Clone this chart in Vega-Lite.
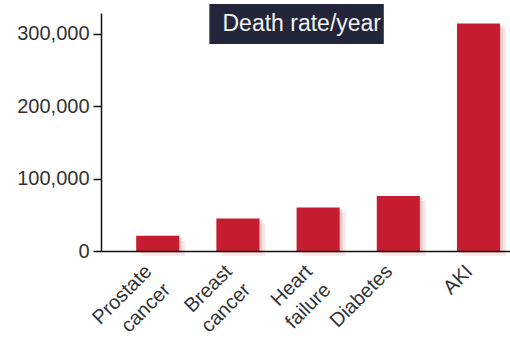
{
  "$schema": "https://vega.github.io/schema/vega-lite/v6.json",
  "width": 409,
  "height": 238,
  "autosize": {"type": "none"},
  "padding": {"left": 101, "top": 13, "right": 0, "bottom": 90},
  "background": "white",
  "config": {
    "view": {"stroke": null},
    "font": "Liberation Sans"
  },
  "datasets": {
    "deaths": [
      {"condition": "Prostate cancer", "deaths": 21000},
      {"condition": "Breast cancer", "deaths": 45000},
      {"condition": "Heart failure", "deaths": 60000},
      {"condition": "Diabetes", "deaths": 76000},
      {"condition": "AKI", "deaths": 314500}
    ],
    "heading": [
      {"note": "Death rate/year"}
    ]
  },
  "layer": [
    {
      "data": {"name": "deaths"},
      "mark": {"type": "bar", "color": "#e7b3b5", "opacity": 0.3, "xOffset": 6, "yOffset": 5, "y2Offset": 18},
      "encoding": {
        "x": {"field": "condition", "type": "nominal"},
        "y": {"field": "deaths", "type": "quantitative"}
      }
    },
    {
      "data": {"name": "deaths"},
      "mark": {"type": "bar", "color": "#d98b90", "opacity": 0.3, "xOffset": 3, "yOffset": 2, "y2Offset": 9},
      "encoding": {
        "x": {"field": "condition", "type": "nominal"},
        "y": {"field": "deaths", "type": "quantitative"}
      }
    },
    {
      "data": {"name": "deaths"},
      "mark": {"type": "bar", "color": "#c61c30"},
      "encoding": {
        "x": {
          "field": "condition",
          "type": "nominal",
          "title": null,
          "scale": {
            "domain": ["Prostate cancer", "Breast cancer", "Heart failure", "Diabetes", "AKI"],
            "paddingInner": 0.4625,
            "paddingOuter": 0.28125,
            "align": 0.78
          },
          "axis": {
            "labelAngle": -45,
            "labelAlign": "right",
            "labelBaseline": "middle",
            "labelFontSize": 20,
            "labelLineHeight": 26,
            "labelColor": "#333333",
            "labelPadding": 17,
            "labelOffset": -9,
            "labelExpr": "split(datum.label, ' ')",
            "ticks": false,
            "domainColor": "#111111",
            "domainWidth": 1.5,
            "zindex": 1
          }
        },
        "y": {
          "field": "deaths",
          "type": "quantitative",
          "title": null,
          "scale": {"domain": [0, 329000], "nice": false},
          "axis": {
            "values": [0, 100000, 200000, 300000],
            "labelExpr": "format(datum.value, ',')",
            "grid": false,
            "labelFontSize": 20,
            "labelColor": "#333333",
            "labelPadding": 4,
            "tickSize": 8,
            "tickWidth": 1.5,
            "tickColor": "#111111",
            "domainColor": "#111111",
            "domainWidth": 1.5,
            "zindex": 1
          }
        }
      }
    },
    {
      "data": {"name": "heading"},
      "mark": {"type": "rect", "color": "#23263b"},
      "encoding": {
        "x": {"datum": "Breast cancer", "type": "nominal", "bandPosition": -0.163},
        "x2": {"datum": "Diabetes", "bandPosition": 0.163},
        "y": {"datum": 341500, "type": "quantitative"},
        "y2": {"datum": 286000}
      }
    },
    {
      "data": {"name": "heading"},
      "mark": {"type": "text", "color": "#f2f2f2", "fontSize": 23, "align": "center", "baseline": "middle"},
      "encoding": {
        "x": {"datum": "Heart failure", "type": "nominal", "bandPosition": 0.12},
        "y": {"datum": 313500, "type": "quantitative"},
        "text": {"field": "note", "type": "nominal"}
      }
    }
  ]
}
